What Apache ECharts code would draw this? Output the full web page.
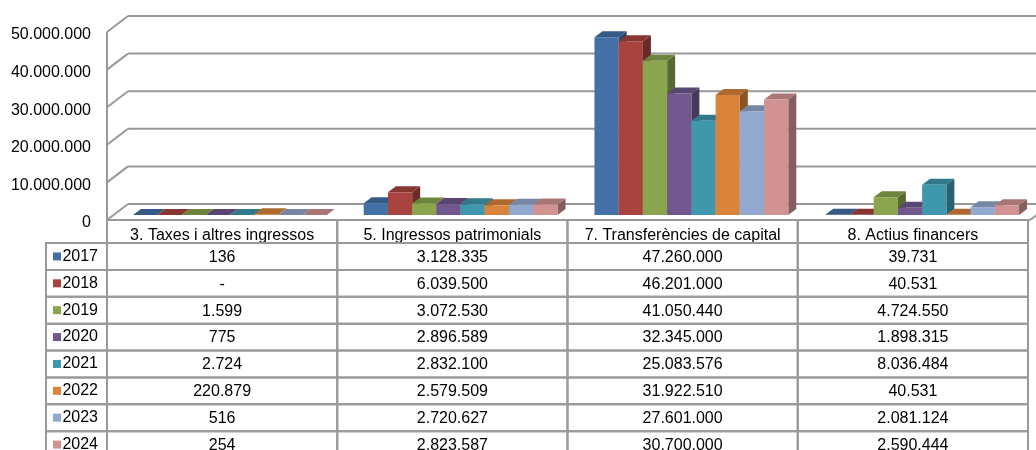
<!DOCTYPE html>
<html><head><meta charset="utf-8">
<script src="https://cdn.jsdelivr.net/npm/echarts@6/dist/echarts.min.js"></script>
<style>html,body{margin:0;padding:0;background:#fff}#c{width:1036px;height:450px}</style>
</head><body><div id="c"></div>
<script>
const categories = ['3. Taxes i altres ingressos', '5. Ingressos patrimonials', '7. Transferències de capital', '8. Actius financers'];
const years = ['2017', '2018', '2019', '2020', '2021', '2022', '2023', '2024'];
const v2017 = [136, 3128335, 47260000, 39731];
const v2018 = [0, 6039500, 46201000, 40531];
const v2019 = [1599, 3072530, 41050440, 4724550];
const v2020 = [775, 2896589, 32345000, 1898315];
const v2021 = [2724, 2832100, 25083576, 8036484];
const v2022 = [220879, 2579509, 31922510, 40531];
const v2023 = [516, 2720627, 27601000, 2081124];
const v2024 = [254, 2823587, 30700000, 2590444];
const yTicks = [0, 10000000, 20000000, 30000000, 40000000, 50000000];

const seriesValues = [v2017, v2018, v2019, v2020, v2021, v2022, v2023, v2024];
const colors = ['#4370A6', '#A9433F', '#8AA54D', '#71578E', '#3F97AE', '#DA833B', '#93A8CE', '#D19392'];
const FONT = '"Liberation Sans", Arial, sans-serif';
const LINE = '#999';
const DX = 21, DY = -16;   // wall depth
const BX = 7.5, BY = -5;   // bar front offset
const BDX = 8, BDY = -6;   // bar depth
const GROUP = 0.84;

function shade(hex, f) {
  const n = parseInt(hex.slice(1), 16);
  const r = Math.round(((n >> 16) & 255) * f), g = Math.round(((n >> 8) & 255) * f), b = Math.round((n & 255) * f);
  return 'rgb(' + r + ',' + g + ',' + b + ')';
}
function dots(v) { return String(v).replace(/\B(?=(\d{3})+(?!\d))/g, '.'); }
function fmt(v) { return v ? dots(v) : '-'; }

const series = [];
// walls & floor
series.push({
  type: 'custom', xAxisIndex: 0, yAxisIndex: 0, silent: true, z: 1,
  data: yTicks.map(v => [0, v]),
  renderItem(params, api) {
    const cs = params.coordSys;
    const v = api.value(1);
    const y = api.coord([0, v])[1];
    const x0 = cs.x, x1 = cs.x + cs.width;
    const ls = { stroke: LINE, lineWidth: 2 };
    const ch = [
      { type: 'line', shape: { x1: x0 + DX, y1: y + DY, x2: x1 + DX + 40, y2: y + DY }, style: ls },
      { type: 'line', shape: { x1: x0, y1: y, x2: x0 + DX, y2: y + DY }, style: ls }
    ];
    if (v === 0) {
      ch.push({ type: 'line', shape: { x1: x0, y1: y, x2: x1, y2: y }, style: ls });
      ch.push({ type: 'line', shape: { x1: x1, y1: y, x2: x1 + DX, y2: y + DY }, style: ls });
      ch.push({ type: 'line', shape: { x1: x0, y1: cs.y, x2: x0, y2: y }, style: ls });
    }
    return { type: 'group', children: ch };
  }
});
// 3D bars
seriesValues.forEach((vals, k) => {
  series.push({
    type: 'custom', name: years[k], xAxisIndex: 0, yAxisIndex: 0, z: 2,
    data: vals.map((v, i) => [i, v]),
    renderItem(params, api) {
      const ci = api.value(0), v = api.value(1);
      const base = api.coord([ci, 0]);
      const top = api.coord([ci, v]);
      const band = api.size([1, 0])[0];
      const bw = band * GROUP / 8;
      const xl = base[0] - band * GROUP / 2 + k * bw + BX;
      const xr = xl + bw;
      const yb = base[1] + BY, yt = top[1] + BY;
      const c = colors[k];
      return { type: 'group', children: [
        { type: 'polygon', z2: k * 3, shape: { points: [[xr, yb], [xr + BDX, yb + BDY], [xr + BDX, yt + BDY], [xr, yt]] }, style: { fill: shade(c, 0.64) } },
        { type: 'polygon', z2: k * 3 + 1, shape: { points: [[xl, yt], [xr, yt], [xr + BDX, yt + BDY], [xl + BDX, yt + BDY]] }, style: { fill: shade(c, 0.8) } },
        { type: 'rect', z2: k * 3 + 4, shape: { x: xl, y: yt, width: bw, height: yb - yt }, style: { fill: c } }
      ] };
    }
  });
});
// data table
const cells = [];
years.forEach((y, r) => categories.forEach((c, ci) => cells.push([ci, r])));
series.push({
  type: 'custom', xAxisIndex: 1, yAxisIndex: 1, silent: true, z: 3,
  data: cells,
  renderItem(params, api) {
    const c = api.value(0), r = api.value(1);
    const p = api.coord([c, r]);
    const s = api.size([1, 1]);
    const x = p[0] - s[0] / 2, y = p[1] - s[1] / 2;
    const ls = { stroke: LINE, lineWidth: 2, fill: null };
    const ch = [
      { type: 'rect', shape: { x: x, y: y, width: s[0], height: s[1] }, style: ls },
      { type: 'text', style: { text: fmt(seriesValues[r][c]), x: p[0], y: p[1] + 1, align: 'center', verticalAlign: 'middle', fontSize: 16, fontFamily: FONT, fill: '#000' } }
    ];
    if (c === 0) {
      ch.push({ type: 'rect', shape: { x: x - 61, y: y, width: 61, height: s[1] }, style: ls });
      ch.push({ type: 'rect', shape: { x: x - 54, y: p[1] - 4, width: 8, height: 8 }, style: { fill: colors[r] } });
    }
    if (r === 0) {
      ch.push({ type: 'rect', shape: { x: x, y: y - 23, width: s[0], height: 23 }, style: ls });
    }
    return { type: 'group', children: ch };
  }
});

const chart = echarts.init(document.getElementById('c'));
chart.setOption({
  animation: false,
  backgroundColor: '#fff',
  textStyle: { fontFamily: FONT },
  grid: [
    { left: 107, right: 6, top: 32, height: 188, outerBoundsMode: 'none', containLabel: false },
    { left: 107, right: 8, top: 243, height: 215, outerBoundsMode: 'none', containLabel: false }
  ],
  xAxis: [
    { type: 'category', gridIndex: 0, data: categories, axisLine: { show: false }, axisTick: { show: false }, axisLabel: { show: false }, splitLine: { show: false } },
    { type: 'category', gridIndex: 1, data: categories, position: 'top', axisLine: { show: false }, axisTick: { show: false }, axisLabel: { interval: 0, hideOverlap: false, fontSize: 16, color: '#000', margin: -1, fontFamily: FONT }, splitLine: { show: false } }
  ],
  yAxis: [
    { type: 'value', gridIndex: 0, min: 0, max: 50000000, interval: 10000000, axisLine: { show: false }, axisTick: { show: false }, splitLine: { show: false },
      axisLabel: { fontSize: 16, color: '#000', margin: 16, verticalAlign: 'top', lineHeight: 6, fontFamily: FONT, formatter: v => dots(v) } },
    { type: 'category', gridIndex: 1, data: years, inverse: true, axisLine: { show: false }, axisTick: { show: false }, splitLine: { show: false },
      axisLabel: { interval: 0, fontSize: 16, color: '#000', margin: 9, fontFamily: FONT } }
  ],
  series: series
});
</script>
</body></html>
